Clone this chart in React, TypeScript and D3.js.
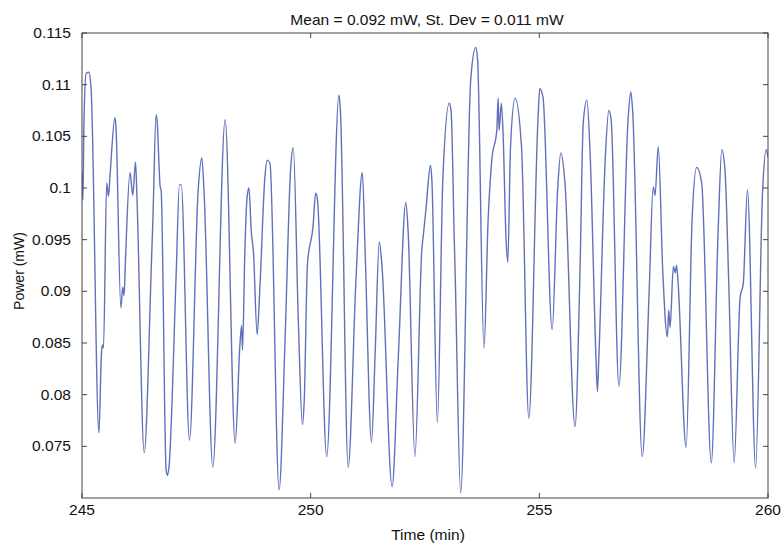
import React from "react";
import * as d3 from "d3";

const timeMin: number[] = [
  245.00, 245.02, 245.04, 245.09, 245.15, 245.20, 245.37, 245.42, 245.44, 245.47,
  245.54, 245.58, 245.61, 245.72, 245.74, 245.85, 245.89, 245.92, 245.95, 246.05,
  246.11, 246.17, 246.20, 246.36, 246.52, 246.55, 246.62, 246.64, 246.71, 246.73,
  246.84, 246.87, 246.90, 247.06, 247.13, 247.17, 247.35, 247.54, 247.62, 247.67,
  247.86, 248.13, 248.35, 248.45, 248.49, 248.51, 248.56, 248.61, 248.65, 248.70,
  248.75, 248.83, 248.89, 249.00, 249.05, 249.11, 249.31, 249.44, 249.56, 249.62,
  249.73, 249.82, 249.86, 249.93, 250.05, 250.11, 250.15, 250.35, 250.62, 250.65,
  250.82, 250.99, 251.13, 251.19, 251.33, 251.41, 251.50, 251.56, 251.78, 251.92,
  252.08, 252.13, 252.28, 252.43, 252.46, 252.52, 252.62, 252.65, 252.77, 252.89,
  253.03, 253.07, 253.14, 253.16, 253.28, 253.50, 253.61, 253.65, 253.79, 253.88,
  253.96, 254.07, 254.10, 254.12, 254.17, 254.21, 254.27, 254.31, 254.37, 254.47,
  254.61, 254.77, 254.97, 255.01, 255.08, 255.28, 255.40, 255.47, 255.56, 255.78,
  255.89, 255.96, 256.04, 256.11, 256.24, 256.27, 256.30, 256.44, 256.52, 256.57,
  256.74, 256.94, 257.00, 257.04, 257.25, 257.40, 257.49, 257.53, 257.60, 257.70,
  257.80, 257.83, 257.86, 257.93, 257.97, 258.00, 258.03, 258.21, 258.34, 258.44,
  258.55, 258.76, 258.91, 258.99, 259.06, 259.14, 259.26, 259.39, 259.46, 259.55,
  259.73, 259.88, 259.96, 260.00,
];

const powerMW: number[] = [
  0.1015, 0.0988, 0.1056, 0.1111, 0.1112, 0.1095, 0.0763, 0.0834, 0.0848, 0.0845,
  0.1005, 0.0992, 0.1010, 0.1068, 0.1061, 0.0884, 0.0904, 0.0896, 0.0930, 0.1015,
  0.0993, 0.1025, 0.0993, 0.0744, 0.0930, 0.0969, 0.1071, 0.1066, 0.1001, 0.0998,
  0.0727, 0.0722, 0.0729, 0.0918, 0.1003, 0.1003, 0.0756, 0.0998, 0.1029, 0.0995,
  0.0730, 0.1066, 0.0753, 0.0846, 0.0867, 0.0843, 0.0937, 0.0991, 0.1000, 0.0959,
  0.0937, 0.0858, 0.0904, 0.1011, 0.1027, 0.1024, 0.0708, 0.0853, 0.1017, 0.1039,
  0.0872, 0.0771, 0.0795, 0.0927, 0.0962, 0.0995, 0.0988, 0.0740, 0.1090, 0.1075,
  0.0730, 0.0911, 0.1015, 0.0940, 0.0754, 0.0840, 0.0948, 0.0924, 0.0711, 0.0840,
  0.0986, 0.0959, 0.0740, 0.0940, 0.0953, 0.0979, 0.1022, 0.1008, 0.0773, 0.1008,
  0.1082, 0.1075, 0.0950, 0.0916, 0.0705, 0.1105, 0.1136, 0.1124, 0.0845, 0.0969,
  0.1027, 0.1056, 0.1087, 0.1056, 0.1082, 0.1049, 0.0953, 0.0928, 0.1040, 0.1087,
  0.1040, 0.0777, 0.1066, 0.1096, 0.1088, 0.0863, 0.0998, 0.1034, 0.1005, 0.0769,
  0.0921, 0.1063, 0.1085, 0.1034, 0.0834, 0.0803, 0.0834, 0.1027, 0.1075, 0.1066,
  0.0808, 0.1066, 0.1093, 0.1075, 0.0740, 0.0898, 0.1001, 0.0993, 0.1040, 0.0918,
  0.0856, 0.0882, 0.0865, 0.0924, 0.0918, 0.0925, 0.0911, 0.0749, 0.0969, 0.1020,
  0.1005, 0.0734, 0.0959, 0.1037, 0.1017, 0.0911, 0.0734, 0.0894, 0.0908, 0.0998,
  0.0729, 0.0995, 0.1037, 0.1030,
];

const xTicks: number[] = [245, 250, 255, 260];
const yTicks: number[] = [0.075, 0.08, 0.085, 0.09, 0.095, 0.1, 0.105, 0.11, 0.115];
const yTickLabels: string[] = ["0.075", "0.08", "0.085", "0.09", "0.095", "0.1", "0.105", "0.11", "0.115"];

const titleText = "Mean = 0.092 mW, St. Dev = 0.011 mW";
const xLabel = "Time (min)";
const yLabel = "Power (mW)";

const SX = 1.11;

function T(props: { x: number; y: number; anchor: "start" | "middle" | "end"; size: number; children: React.ReactNode; dy?: string }) {
  return (
    <text
      transform={`translate(${props.x},${props.y}) scale(${SX},1)`}
      textAnchor={props.anchor}
      fontSize={props.size}
      dy={props.dy}
      fill="#111"
    >
      {props.children}
    </text>
  );
}

export default function App() {
  const W = 782, H = 546;
  const left = 82, right = 768, top = 33, bottom = 498;
  const x = d3.scaleLinear().domain([245, 260]).range([left, right]);
  const y = d3.scaleLinear().domain([0.07, 0.115]).range([bottom, top]);
  const pts: [number, number][] = timeMin.map((t, i) => [t, powerMW[i]]);
  const line = d3
    .line<[number, number]>()
    .x((d) => x(d[0]))
    .y((d) => y(d[1]))
    .curve(d3.curveMonotoneX);
  const font = "Liberation Sans, Arial, sans-serif";
  const axisColor = "#444";
  const tl = 5;
  return (
    <svg width={W} height={H} style={{ position: "absolute", left: 0, top: 0, background: "#fff" }} fontFamily={font}>
      <rect x={0} y={0} width={W} height={H} fill="#fff" />
      <defs>
        <clipPath id="plotclip">
          <rect x={left} y={top} width={right - left} height={bottom - top} />
        </clipPath>
      </defs>
      <path d={line(pts) || ""} fill="none" stroke="#6170ba" strokeWidth={1.4} clipPath="url(#plotclip)" />
      <rect x={left} y={top} width={right - left} height={bottom - top} fill="none" stroke={axisColor} strokeWidth={1} />
      {xTicks.map((t) => (
        <g key={"x" + t}>
          <line x1={x(t)} x2={x(t)} y1={bottom} y2={bottom - tl} stroke={axisColor} />
          <line x1={x(t)} x2={x(t)} y1={top} y2={top + tl} stroke={axisColor} />
          <T x={x(t)} y={bottom + 17} anchor="middle" size={14}>
            {t}
          </T>
        </g>
      ))}
      {yTicks.map((v, i) => (
        <g key={"y" + v}>
          <line x1={left} x2={left + tl} y1={y(v)} y2={y(v)} stroke={axisColor} />
          <line x1={right} x2={right - tl} y1={y(v)} y2={y(v)} stroke={axisColor} />
          <T x={left - 11} y={y(v)} dy="0.35em" anchor="end" size={14}>
            {yTickLabels[i]}
          </T>
        </g>
      ))}
      <T x={427} y={25} anchor="middle" size={14}>
        {titleText}
      </T>
      <T x={428} y={540} anchor="middle" size={14}>
        {xLabel}
      </T>
      <text transform={`translate(24, ${271}) rotate(-90)`} textAnchor="middle" fontSize={14} fill="#111">
        {yLabel}
      </text>
    </svg>
  );
}
